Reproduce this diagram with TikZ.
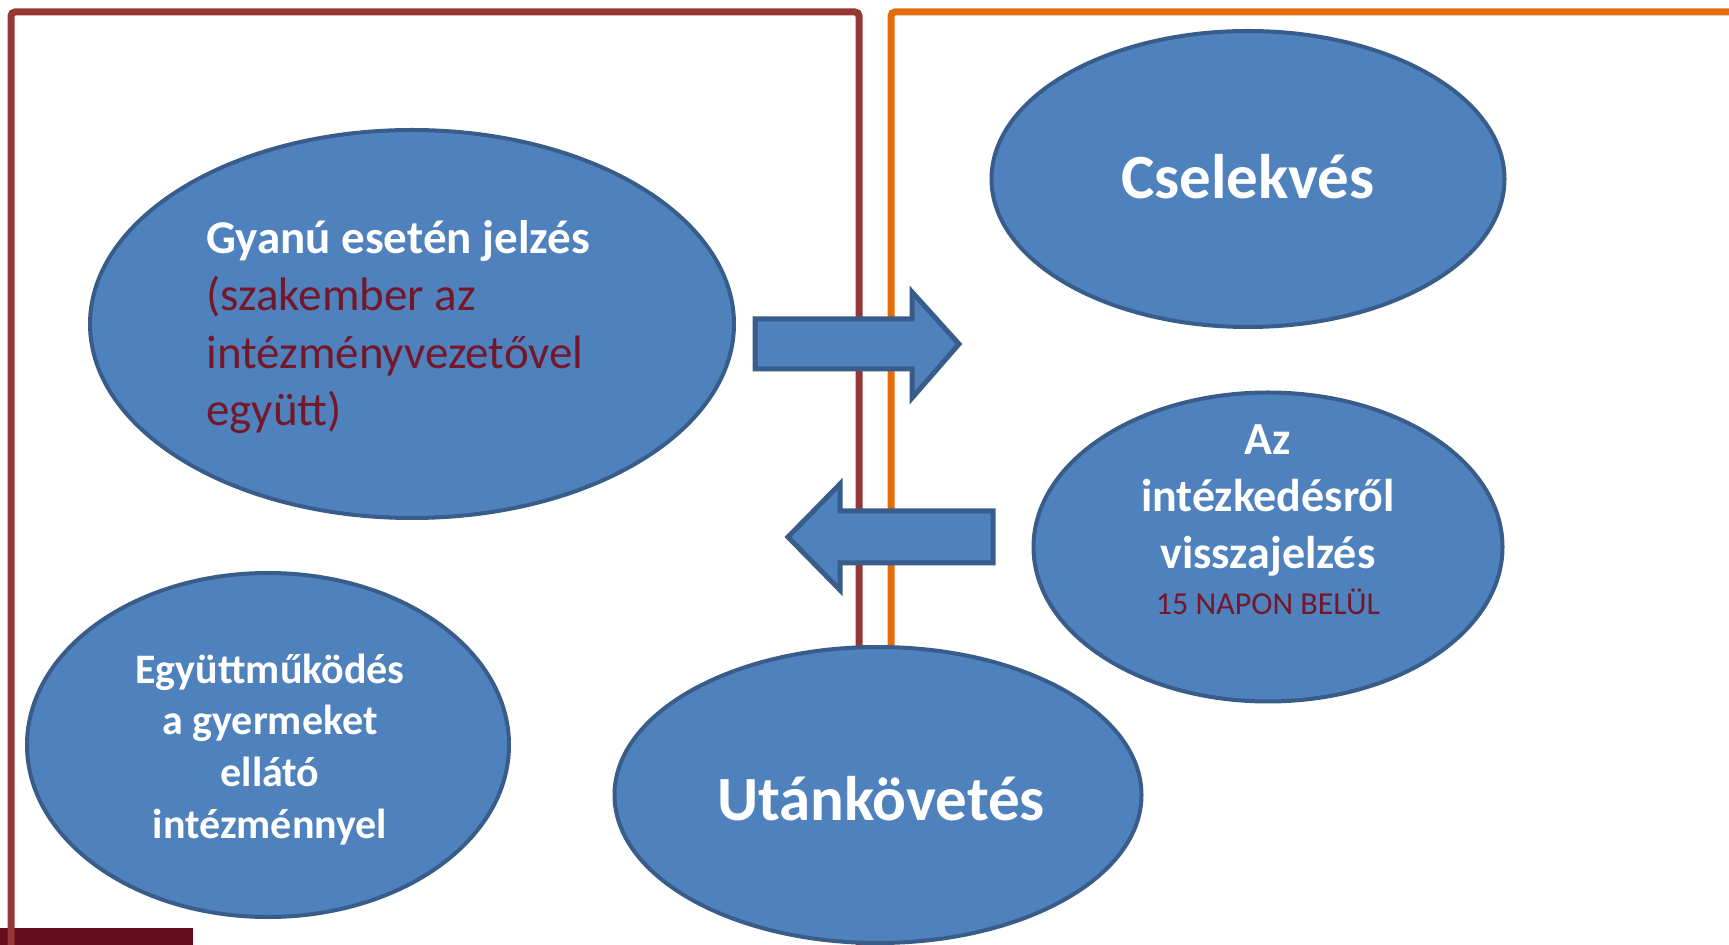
\documentclass[tikz,border=0pt]{standalone}
\usepackage{fontspec}
\setmainfont{Carlito}
\usepackage{xcolor}
\usetikzlibrary{shapes.geometric}
\definecolor{framebrown}{HTML}{953735}
\definecolor{frameorange}{HTML}{E46C0A}
\definecolor{bubbleblue}{HTML}{4F81BD}
\definecolor{bubbleedge}{HTML}{385D8A}
\definecolor{notered}{HTML}{74172B}
\definecolor{barmaroon}{HTML}{650D1E}

\begin{document}
\begin{tikzpicture}[x=0.5pt,y=-0.5pt,
  bubble/.style={ellipse,fill=bubbleblue,draw=bubbleedge,line width=2pt,inner sep=0pt},
  blockarrow/.style={fill=bubbleblue,draw=bubbleedge,line width=2.5pt,line join=miter},
  headtext/.style={text=white,font=\bfseries\fontsize{31.5}{38}\selectfont,inner sep=0pt},
  bodytext/.style={text=white,font=\bfseries\fontsize{23}{28.5}\selectfont,inner sep=0pt,align=center},
  notetext/.style={text=notered,font=\fontsize{16}{19}\selectfont,inner sep=0pt}]
  \useasboundingbox (0,0) rectangle (1729,945);
  % frames
  \fill[barmaroon] (0,928) rectangle (193,945);
  \draw[framebrown,line width=3.5pt,rounded corners=2pt] (11,950)--(11,12)--(859,12)--(859,950);
  \draw[frameorange,line width=3.5pt,rounded corners=2pt] (891,950)--(891,12)--(1740,12);
  % bubbles
  \node[bubble,minimum width=322pt,minimum height=194pt] (gyanu) at (412,324) {};
  \node[bubble,minimum width=256.5pt,minimum height=148pt] (cselekves) at (1248,179) {};
  \node[bubble,minimum width=234.5pt,minimum height=154.5pt] (visszajelzes) at (1268,547) {};
  \node[bubble,minimum width=241pt,minimum height=172pt] (egyutt) at (268,745) {};
  \node[bubble,minimum width=263.5pt,minimum height=148pt] (utankovetes) at (878,795) {};
  % block arrows
  \draw[blockarrow] (755,319)--(912,319)--(912,292)--(959,344)--(912,398)--(912,369)--(755,369)--cycle;
  \draw[blockarrow] (993,511)--(840,511)--(840,484)--(788,537)--(840,590)--(840,563)--(993,563)--cycle;
  % texts (base = last line)
  \node[text=notered,font=\fontsize{23.5}{28.75}\selectfont,inner sep=0pt,align=left,anchor=base west] (gyanutext) at (206,426)
    {\textcolor{white}{\bfseries Gyanú esetén jelzés}\\(szakember az\\intézményvezetővel\\együtt)};
  \node[headtext,anchor=base] (cselekvestext) at (1248,199) {Cselekvés};
  \node[bodytext,anchor=base] (visszatext) at (1268,569) {Az\\intézkedésről\\visszajelzés};
  \node[notetext,anchor=base] (hatarido) at (1268,615) {15 NAPON BELÜL};
  \node[bodytext,font=\bfseries\fontsize{21}{25.8}\selectfont,anchor=base] (egyutttext) at (270,838)
    {Együttműködés\\a gyermeket\\ellátó\\intézménnyel};
  \node[headtext,anchor=base] (utantext) at (881,820) {Utánkövetés};
\end{tikzpicture}
\end{document}
